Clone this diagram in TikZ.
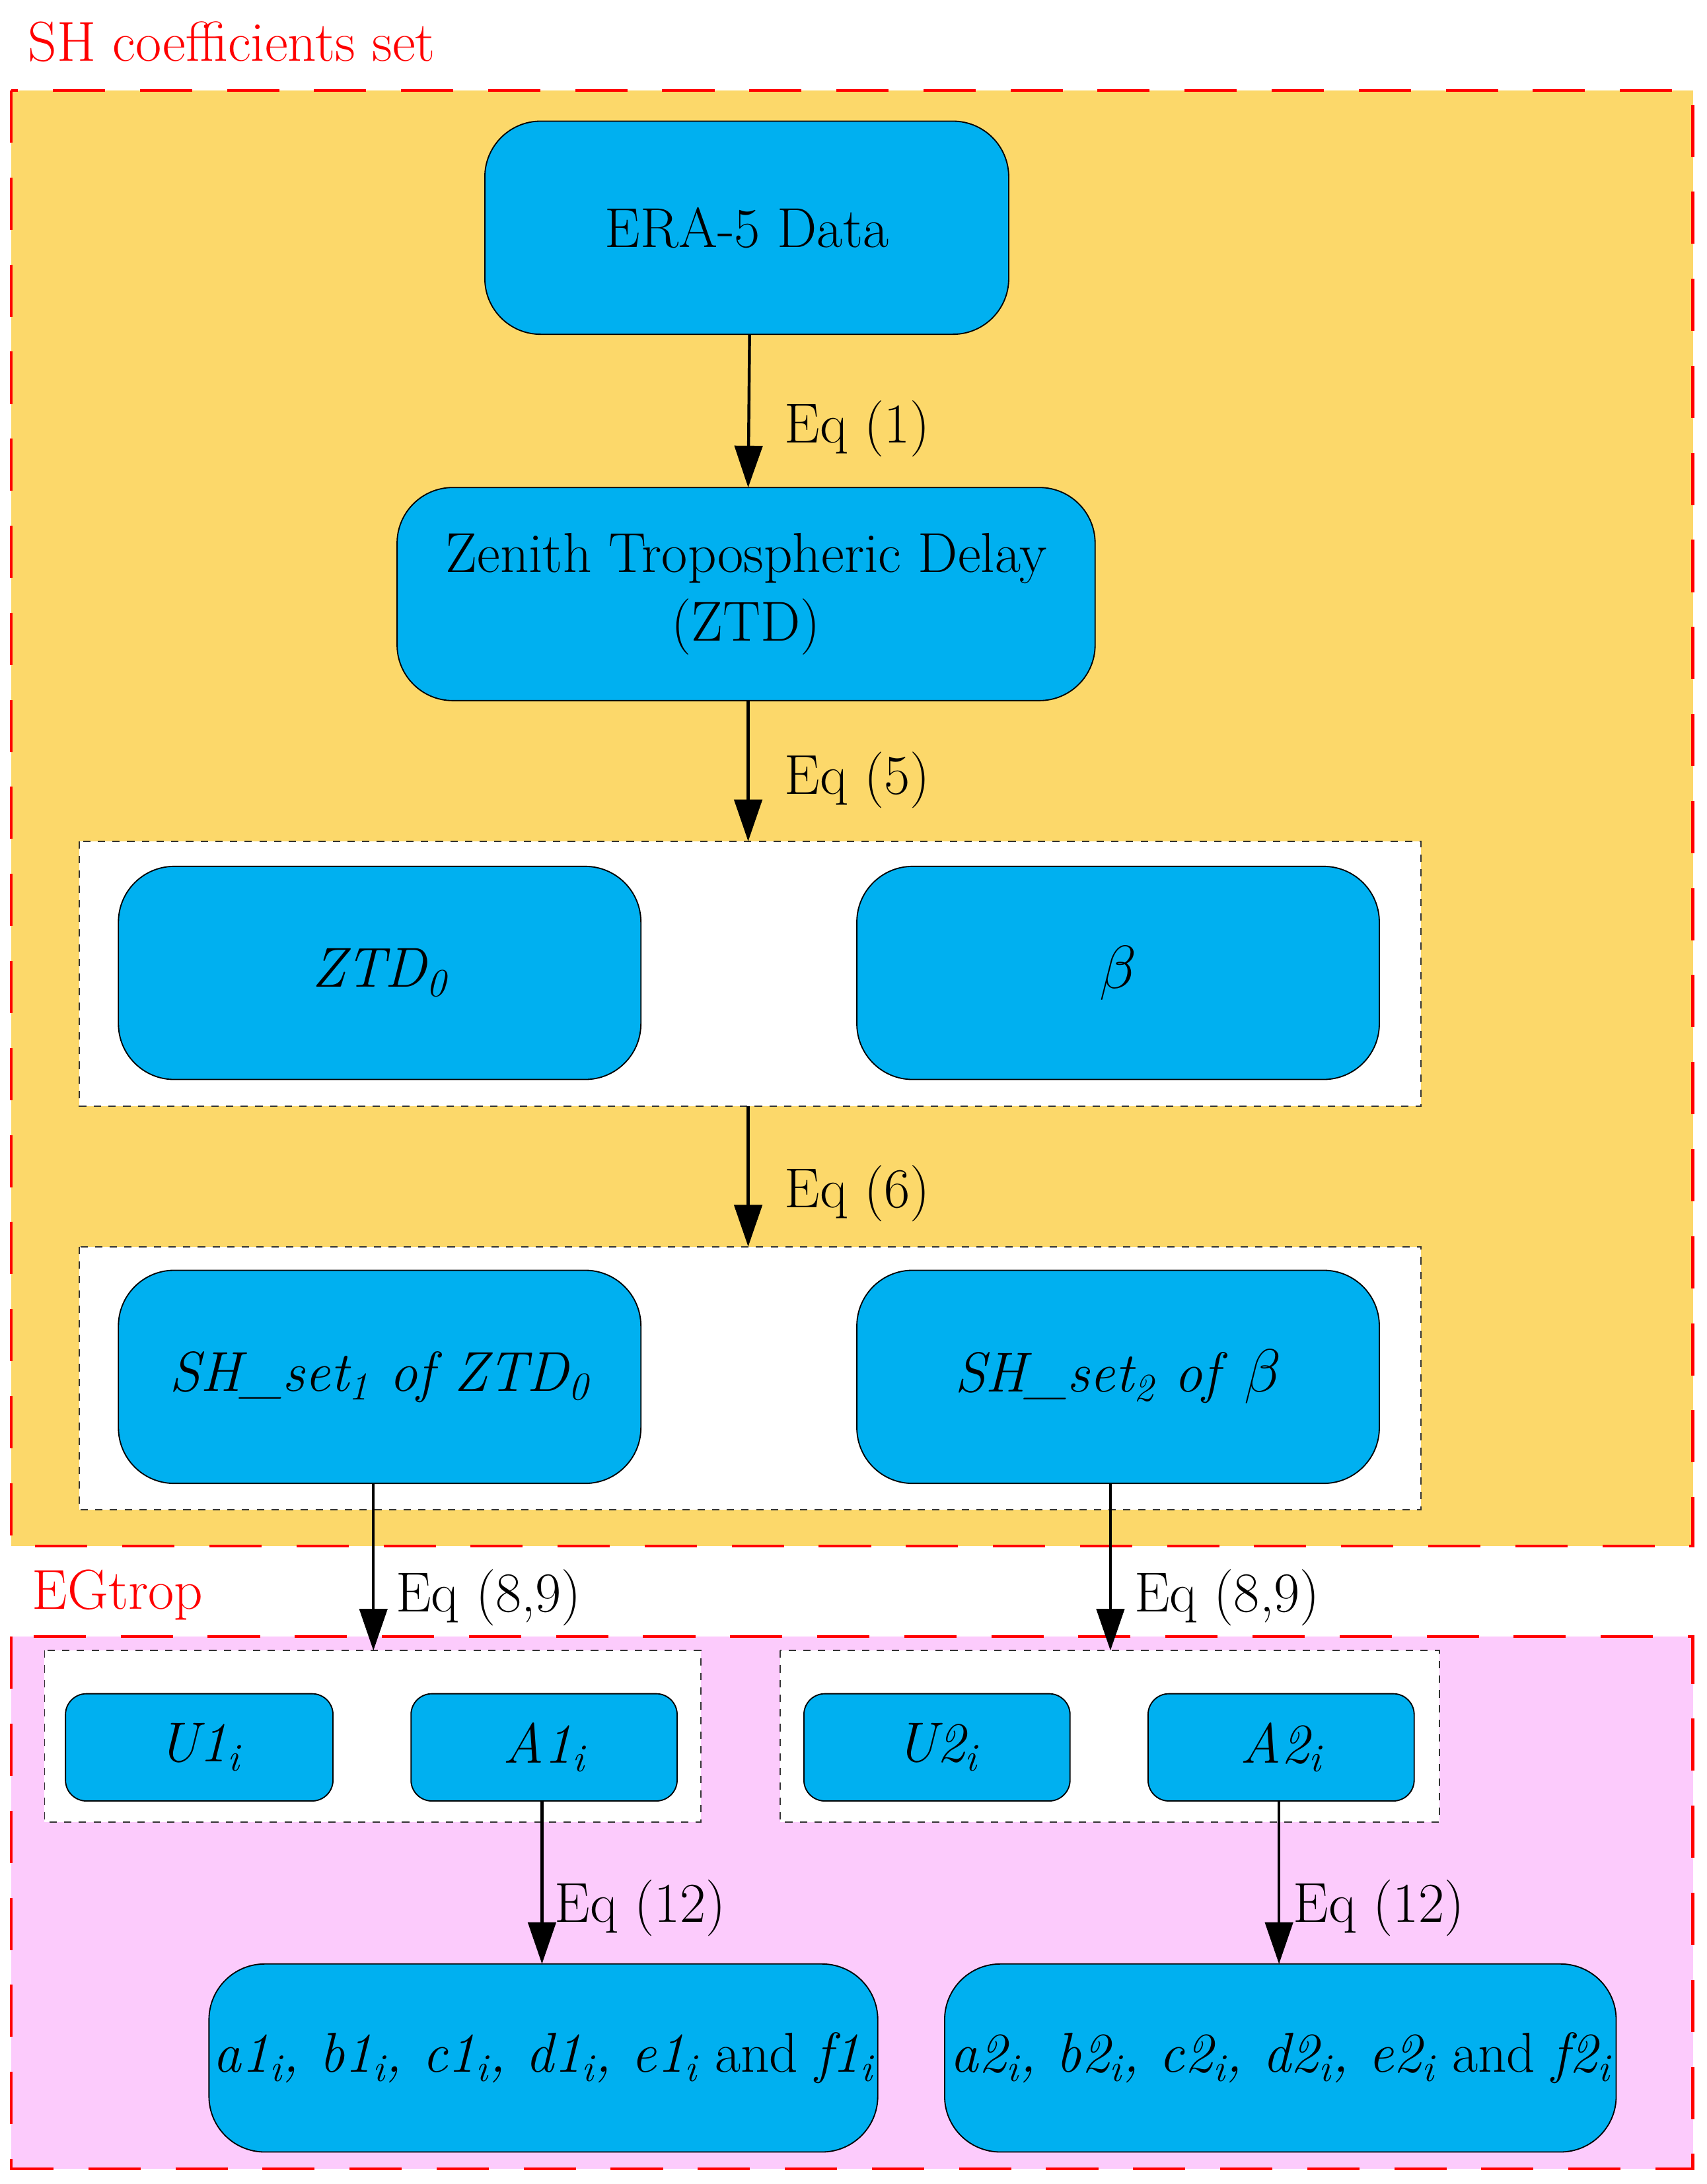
\documentclass[tikz,border=0pt]{standalone}
\usetikzlibrary{arrows.meta}
\begin{document}
\begin{tikzpicture}[x=0.02cm,y=-0.02cm,
  box/.style={draw=black,fill=blue0,rounded corners=0.8cm,line width=0.5pt},
  grp/.style={draw=black!80,fill=white,dashed,line width=0.5pt},
  area/.style={draw=red,line width=1.2pt,dash pattern=on 0.75cm off 0.5cm},
  arr/.style={-{Triangle[length=0.6cm,width=0.4cm]},line width=1.2pt},
  txt/.style={font=\fontsize{23}{28}\selectfont},
  lbl/.style={font=\fontsize{23}{28}\selectfont,anchor=west},
  rl/.style={font=\fontsize{23}{28}\selectfont,text=red,anchor=west}]
\definecolor{blue0}{HTML}{00B0F0}
\definecolor{yel}{HTML}{FCD86A}
\definecolor{pnk}{HTML}{FCCBFC}
\useasboundingbox (0,0) rectangle (1225,1568);
\fill[yel] (8,65) rectangle (1215,1110);
\draw[area] (8,65) rectangle (1215,1110);
\fill[pnk] (8,1175) rectangle (1215,1557);
\draw[area] (8,1175) rectangle (1215,1557);
\node[rl] (t1) at (14,30) {SH coefficients set};
\node[rl] (t2) at (17,1145) {EGtrop};
\draw[box] (348,87) rectangle (724,240) node[midway,txt] (era) {ERA-5 Data};
\draw[box] (285,350) rectangle (786,503) node[midway,txt,align=center] (ztd) {Zenith Tropospheric Delay\\(ZTD)};
\draw[grp] (57,604) rectangle (1020,794);
\draw[box] (85,622) rectangle (460,775) node[midway,txt] {\textit{ZTD\textsubscript{0}}};
\draw[box] (615,622) rectangle (990,775) node[midway,txt] {$\beta$};
\draw[grp] (57,895) rectangle (1020,1084);
\draw[box] (85,912) rectangle (460,1065) node[midway,txt] {\textit{SH\_set\textsubscript{1} of ZTD\textsubscript{0}}};
\draw[box] (615,912) rectangle (990,1065) node[midway,txt] {\textit{SH\_set\textsubscript{2} of} $\beta$};
\draw[grp] (32,1185) rectangle (503,1308);
\draw[grp] (560,1185) rectangle (1033,1308);
\draw[box,rounded corners=0.3cm] (47,1216) rectangle (239,1293) node[midway,txt] {\textit{U1\textsubscript{i}}};
\draw[box,rounded corners=0.3cm] (295,1216) rectangle (486,1293) node[midway,txt] {\textit{A1\textsubscript{i}}};
\draw[box,rounded corners=0.3cm] (577,1216) rectangle (768,1293) node[midway,txt] {\textit{U2\textsubscript{i}}};
\draw[box,rounded corners=0.3cm] (824,1216) rectangle (1015,1293) node[midway,txt] {\textit{A2\textsubscript{i}}};
\draw[box] (150,1410) rectangle (630,1545) node[midway,txt] {\textit{a1\textsubscript{i}, b1\textsubscript{i}, c1\textsubscript{i}, d1\textsubscript{i}, e1\textsubscript{i}} and \textit{f1\textsubscript{i}}};
\draw[box] (678,1410) rectangle (1160,1545) node[midway,txt] {\textit{a2\textsubscript{i}, b2\textsubscript{i}, c2\textsubscript{i}, d2\textsubscript{i}, e2\textsubscript{i}} and \textit{f2\textsubscript{i}}};
\coordinate (a1) at (538,240); \coordinate (b1) at (537,350);
\coordinate (a2) at (537,503); \coordinate (b2) at (537,604);
\coordinate (a3) at (537,794); \coordinate (b3) at (537,895);
\coordinate (a4) at (268,1065); \coordinate (b4) at (268,1185);
\coordinate (a5) at (797,1065); \coordinate (b5) at (797,1185);
\coordinate (a6) at (389,1293); \coordinate (b6) at (389,1410);
\coordinate (a7) at (918,1293); \coordinate (b7) at (918,1410);
\draw[arr] (a1) -- (b1);
\draw[arr] (a2) -- (b2);
\draw[arr] (a3) -- (b3);
\draw[arr] (a4) -- (b4);
\draw[arr] (a5) -- (b5);
\draw[arr] (a6) -- (b6);
\draw[arr] (a7) -- (b7);
\node[lbl] (l1) at (557,308) {Eq (1)};
\node[lbl] (l2) at (557,560) {Eq (5)};
\node[lbl] (l3) at (557,857) {Eq (6)};
\node[lbl] (l4) at (278,1147) {Eq (8,9)};
\node[lbl] (l5) at (808,1147) {Eq (8,9)};
\node[lbl] (l6) at (392,1370) {Eq (12)};
\node[lbl] (l7) at (922,1370) {Eq (12)};
\end{tikzpicture}
\end{document}
